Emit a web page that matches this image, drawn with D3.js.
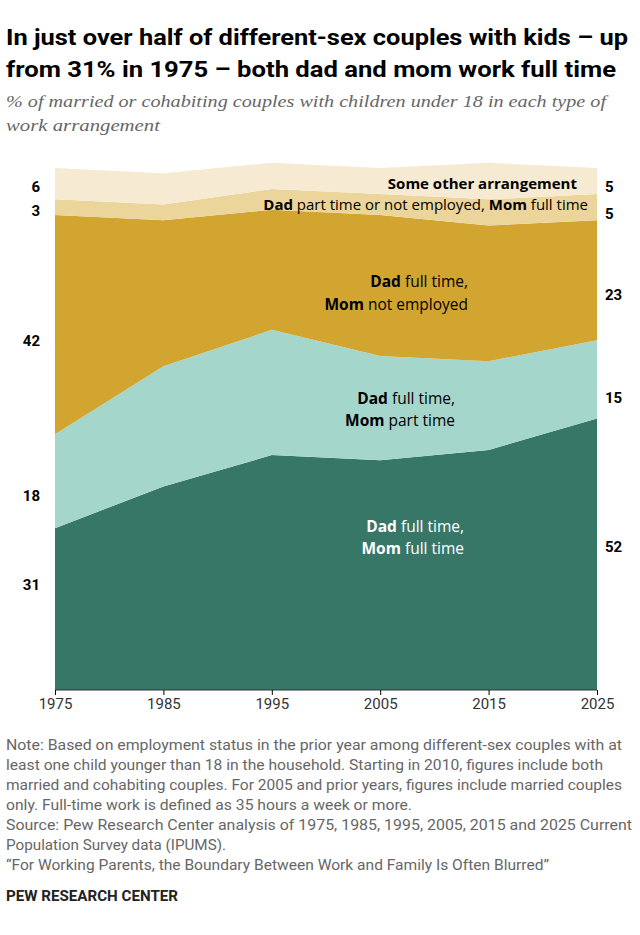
<!DOCTYPE html><html><head><meta charset="utf-8">
<script src="https://cdn.jsdelivr.net/npm/d3@7"></script>
<style>body{margin:0;background:#fff;font-family:Roboto,"Noto Sans",sans-serif}</style></head><body>
<svg id="c" width="640" height="935"></svg>
<script>
const years=[1975,1985,1995,2005,2015,2025];
const bothFull=[31,39,45,44,46,52];
const momPart=[18,23,24,20,17,15];
const momNot=[42,28,23,27,26,23];
const dadPart=[3,3,4,4,5,5];
const other=[6,6,5,5,7,5];
const keys=["bothFull","momPart","momNot","dadPart","other"];
const colors=["#377767","#a5d6cb","#d1a530","#ecd59b","#f6ebd2"];
const rows=years.map((y,i)=>({year:y,bothFull:bothFull[i],momPart:momPart[i],momNot:momNot[i],dadPart:dadPart[i],other:other[i]}));
const svg=d3.select("#c");
const x=d3.scaleLinear().domain([1975,2025]).range([55,597]);
const y=d3.scaleLinear().domain([0,100]).range([690,168]);
const stack=d3.stack().keys(keys)(rows);
const area=d3.area().x(d=>x(d.data.year)).y0(d=>y(d[0])).y1(d=>y(d[1]));
svg.selectAll("path.a").data(stack).join("path").attr("d",area).attr("fill",(d,i)=>colors[i]);
svg.append("line").attr("x1",55).attr("x2",597).attr("y1",690).attr("y2",690).attr("stroke","#333");
const ax=svg.append("g").attr("transform","translate(0,690)").call(d3.axisBottom(x).tickValues(years).tickFormat(d3.format("d")).tickSize(5));
ax.select(".domain").remove();
ax.selectAll("text").attr("font-size",15).attr("fill","#333").attr("font-family","Roboto");
function T(t,xx,yy,o={}){const e=svg.append("text").attr("x",xx).attr("y",yy).attr("font-size",o.s||15).attr("fill",o.c||"#000").attr("font-weight",o.w||"normal").attr("text-anchor",o.a||"start").attr("font-style",o.i?"italic":"normal").attr("font-family",o.f||"Roboto");if(o.L)e.attr("textLength",o.L).attr("lengthAdjust","spacingAndGlyphs");return e;}
function R(parts,xx,yy,o={}){const e=T("",xx,yy,o);parts.forEach(p=>e.append("tspan").text(p[0]).attr("font-weight",p[1]?"bold":"normal"));}
T("",6,45,{s:22,w:"bold",L:622}).text("In just over half of different-sex couples with kids – up");
T("",6,77,{s:22,w:"bold",L:610}).text("from 31% in 1975 – both dad and mom work full time");
T("",6,107,{s:16.5,i:true,c:"#666",f:"Georgia,serif",L:600}).text("% of married or cohabiting couples with children under 18 in each type of");
T("",6,131,{s:16.5,i:true,c:"#666",f:"Georgia,serif",L:154}).text("work arrangement");
const L=[[31,590],[18,501],[42,346],[3,216],[6,192]];
L.forEach(d=>T("",40,d[1],{s:15,w:"bold",a:"end"}).text(d[0]));
const Rv=[[52,552],[15,403],[23,300],[5,219],[5,192]];
Rv.forEach(d=>T("",605,d[1],{s:15,w:"bold"}).text(d[0]));
const F="'Open Sans'";
R([["Some other arrangement",1]],577,189,{s:15,a:"end",f:F});
R([["Dad",1],[" part time or not employed, ",0],["Mom",1],[" full time",0]],588,210,{s:15,a:"end",f:F});
R([["Dad",1],[" full time,",0]],468,287,{s:15.5,a:"end",f:F});
R([["Mom",1],[" not employed",0]],468,310,{s:15.5,a:"end",f:F});
R([["Dad",1],[" full time,",0]],455,404,{s:15.5,a:"end",f:F});
R([["Mom",1],[" part time",0]],455,426,{s:15.5,a:"end",f:F});
R([["Dad",1],[" full time,",0]],464,532,{s:15.5,a:"end",c:"#fff",f:F});
R([["Mom",1],[" full time",0]],464,554,{s:15.5,a:"end",c:"#fff",f:F});
const notes=[["Note: Based on employment status in the prior year among different-sex couples with at",616],["least one child younger than 18 in the household. Starting in 2010, figures include both",597],["married and cohabiting couples. For 2005 and prior years, figures include married couples",616],["only. Full-time work is defined as 35 hours a week or more.",406],["Source: Pew Research Center analysis of 1975, 1985, 1995, 2005, 2015 and 2025 Current",626],["Population Survey data (IPUMS).",220],["“For Working Parents, the Boundary Between Work and Family Is Often Blurred”",543]];
notes.forEach((t,i)=>T("",6,750+i*20,{s:14,c:"#666",L:t[1]}).text(t[0]));
T("",6,901,{s:14,w:"bold",c:"#222",L:172}).text("PEW RESEARCH CENTER");
</script></body></html>
